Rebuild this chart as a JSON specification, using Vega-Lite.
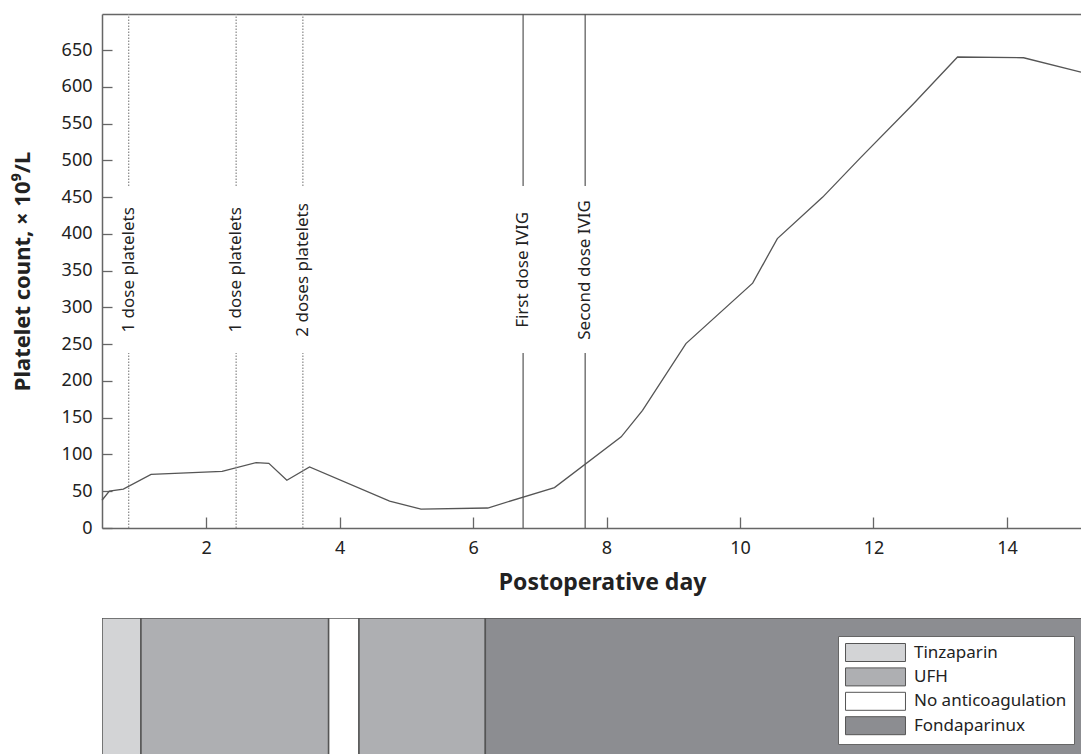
{
  "$schema": "https://vega.github.io/schema/vega-lite/v6.json",
  "padding": {"left": 11, "top": 13, "right": 0, "bottom": 0},
  "autosize": {"type": "pad"},
  "bounds": "flush",
  "spacing": 90,
  "resolve": {"scale": {"color": "independent"}, "legend": {"color": "independent"}},
  "config": {
    "font": "Noto Sans",
    "view": {"stroke": null},
    "axis": {
      "domainColor": "#666666",
      "domainWidth": 1.5,
      "tickColor": "#666666",
      "tickWidth": 1.3,
      "labelFont": "Noto Sans",
      "labelFontSize": 18,
      "labelColor": "#222222",
      "titleFont": "Noto Sans",
      "titleFontWeight": "bold",
      "titleColor": "#222222",
      "grid": false
    }
  },
  "datasets": {
    "platelets": [
      {"day": 0.44, "count": 37.7},
      {"day": 0.55, "count": 50.3},
      {"day": 0.76, "count": 53},
      {"day": 1.175, "count": 73},
      {"day": 2.24, "count": 77},
      {"day": 2.75, "count": 89},
      {"day": 2.94, "count": 88},
      {"day": 3.21, "count": 65},
      {"day": 3.55, "count": 83},
      {"day": 4.75, "count": 36.7},
      {"day": 5.22, "count": 25.8},
      {"day": 6.22, "count": 27.2},
      {"day": 7.22, "count": 55},
      {"day": 8.22, "count": 124},
      {"day": 8.54, "count": 160},
      {"day": 9.19, "count": 250.8},
      {"day": 10.19, "count": 333},
      {"day": 10.56, "count": 393.6},
      {"day": 11.24, "count": 450},
      {"day": 11.8, "count": 503},
      {"day": 12.6, "count": 577},
      {"day": 13.26, "count": 640.5},
      {"day": 14.25, "count": 639.5},
      {"day": 15.11, "count": 620}
    ],
    "events": [
      {"day": 0.84, "label": "1 dose platelets", "kind": "platelets"},
      {"day": 2.45, "label": "1 dose platelets", "kind": "platelets"},
      {"day": 3.45, "label": "2 doses platelets", "kind": "platelets"},
      {"day": 6.75, "label": "First dose IVIG", "kind": "ivig"},
      {"day": 7.68, "label": "Second dose IVIG", "kind": "ivig"}
    ],
    "anticoag": [
      {"start": 0.44, "end": 1.024, "drug": "Tinzaparin"},
      {"start": 1.024, "end": 3.836, "drug": "UFH"},
      {"start": 3.836, "end": 4.291, "drug": "No anticoagulation"},
      {"start": 4.291, "end": 6.184, "drug": "UFH"},
      {"start": 6.184, "end": 16, "drug": "Fondaparinux"}
    ]
  },
  "vconcat": [
    {
      "width": 979,
      "height": 514,
      "layer": [
        {
          "data": {"name": "platelets"},
          "mark": {"type": "line", "color": "#555555", "strokeWidth": 1.3},
          "encoding": {
            "x": {
              "field": "day", "type": "quantitative",
              "scale": {"domain": [0.44, 15.11], "nice": false, "zero": false},
              "axis": {
                "orient": "bottom",
                "values": [2, 4, 6, 8, 10, 12, 14],
                "tickSize": -11,
                "labelPadding": 22,
                "labelFontSize": 18,
                "title": "Postoperative day",
                "titleFontSize": 23,
                "titlePadding": 14,
                "titleX": 500,
                "titleAlign": "center"
              }
            },
            "y": {
              "field": "count", "type": "quantitative",
              "scale": {"domain": [0, 699], "nice": false},
              "axis": {
                "values": [0, 50, 100, 150, 200, 250, 300, 350, 400, 450, 500, 550, 600, 650],
                "tickCount": 14,
                "labelOverlap": false,
                "tickSize": -10,
                "labelPadding": 20,
                "labelFontSize": 18,
                "title": "Platelet count, × 10⁹/L",
                "titleFontSize": 22,
                "titlePadding": 27
              }
            }
          }
        },
        {
          "data": {"name": "events"},
          "mark": {"type": "rule", "strokeWidth": 1.2},
          "encoding": {
            "x": {"field": "day", "type": "quantitative", "scale": {"domain": [0.44, 15.11], "nice": false, "zero": false}, "axis": null},
            "y": {
              "datum": 0, "type": "quantitative", "scale": {"domain": [0, 699], "nice": false},
              "axis": {
                "values": [0, 50, 100, 150, 200, 250, 300, 350, 400, 450, 500, 550, 600, 650],
                "tickCount": 14,
                "labelOverlap": false,
                "tickSize": -10,
                "labelPadding": 20,
                "labelFontSize": 18,
                "title": "Platelet count, × 10⁹/L",
                "titleFontSize": 22,
                "titlePadding": 27
              }
            },
            "y2": {"datum": 238},
            "color": {"field": "kind", "type": "nominal", "scale": {"domain": ["platelets", "ivig"], "range": ["#888888", "#555555"]}, "legend": null},
            "strokeDash": {"field": "kind", "type": "nominal", "scale": {"domain": ["platelets", "ivig"], "range": [[1.5, 1.5], [10, 0]]}, "legend": null}
          }
        },
        {
          "data": {"name": "events"},
          "mark": {"type": "rule", "strokeWidth": 1.2},
          "encoding": {
            "x": {"field": "day", "type": "quantitative", "scale": {"domain": [0.44, 15.11], "nice": false, "zero": false}, "axis": null},
            "y": {
              "datum": 465, "type": "quantitative", "scale": {"domain": [0, 699], "nice": false},
              "axis": {
                "values": [0, 50, 100, 150, 200, 250, 300, 350, 400, 450, 500, 550, 600, 650],
                "tickCount": 14,
                "labelOverlap": false,
                "tickSize": -10,
                "labelPadding": 20,
                "labelFontSize": 18,
                "title": "Platelet count, × 10⁹/L",
                "titleFontSize": 22,
                "titlePadding": 27
              }
            },
            "y2": {"datum": 699},
            "color": {"field": "kind", "type": "nominal", "scale": {"domain": ["platelets", "ivig"], "range": ["#888888", "#555555"]}, "legend": null},
            "strokeDash": {"field": "kind", "type": "nominal", "scale": {"domain": ["platelets", "ivig"], "range": [[1.5, 1.5], [10, 0]]}, "legend": null}
          }
        },
        {
          "data": {"name": "events"},
          "mark": {"type": "text", "angle": 270, "align": "center", "baseline": "middle", "fontSize": 17, "color": "#222222", "font": "Noto Sans"},
          "encoding": {
            "x": {
              "field": "day", "type": "quantitative",
              "scale": {"domain": [0.44, 15.11], "nice": false, "zero": false},
              "axis": {"orient": "top", "labels": false, "ticks": false, "title": null}
            },
            "y": {
              "datum": 351, "type": "quantitative", "scale": {"domain": [0, 699], "nice": false},
              "axis": {
                "values": [0, 50, 100, 150, 200, 250, 300, 350, 400, 450, 500, 550, 600, 650],
                "tickCount": 14,
                "labelOverlap": false,
                "tickSize": -10,
                "labelPadding": 20,
                "labelFontSize": 18,
                "title": "Platelet count, × 10⁹/L",
                "titleFontSize": 22,
                "titlePadding": 27
              }
            },
            "text": {"field": "label"}
          }
        }
      ],
      "resolve": {"axis": {"x": "independent"}}
    },
    {
      "width": 979,
      "height": 136,
      "data": {"name": "anticoag"},
      "mark": {"type": "rect", "stroke": "#555555", "strokeWidth": 1.5, "clip": true},
      "encoding": {
        "x": {"field": "start", "type": "quantitative", "scale": {"domain": [0.44, 15.11], "nice": false, "zero": false}, "axis": null},
        "x2": {"field": "end"},
        "y": {"datum": 0, "type": "quantitative", "scale": {"domain": [0.1, 1]}, "axis": null},
        "y2": {"datum": 1},
        "color": {
          "field": "drug", "type": "nominal",
          "scale": {
            "domain": ["Tinzaparin", "UFH", "No anticoagulation", "Fondaparinux"],
            "range": ["#d3d4d6", "#aeafb2", "#ffffff", "#8c8d91"]
          },
          "legend": {
            "title": null,
            "orient": "none",
            "legendX": 736,
            "legendY": 18,
            "fillColor": "#ffffff",
            "strokeColor": "#666666",
            "padding": 7,
            "rowPadding": 1.4,
            "symbolType": "M-3.33,-1H3.33V1H-3.33Z",
            "symbolSize": 324,
            "symbolStrokeColor": "#555555",
            "symbolStrokeWidth": 1,
            "symbolOpacity": 1,
            "symbolOffset": 21,
            "labelOffset": 29,
            "labelFont": "Noto Sans",
            "labelFontSize": 17,
            "labelColor": "#222222"
          }
        }
      }
    }
  ]
}
